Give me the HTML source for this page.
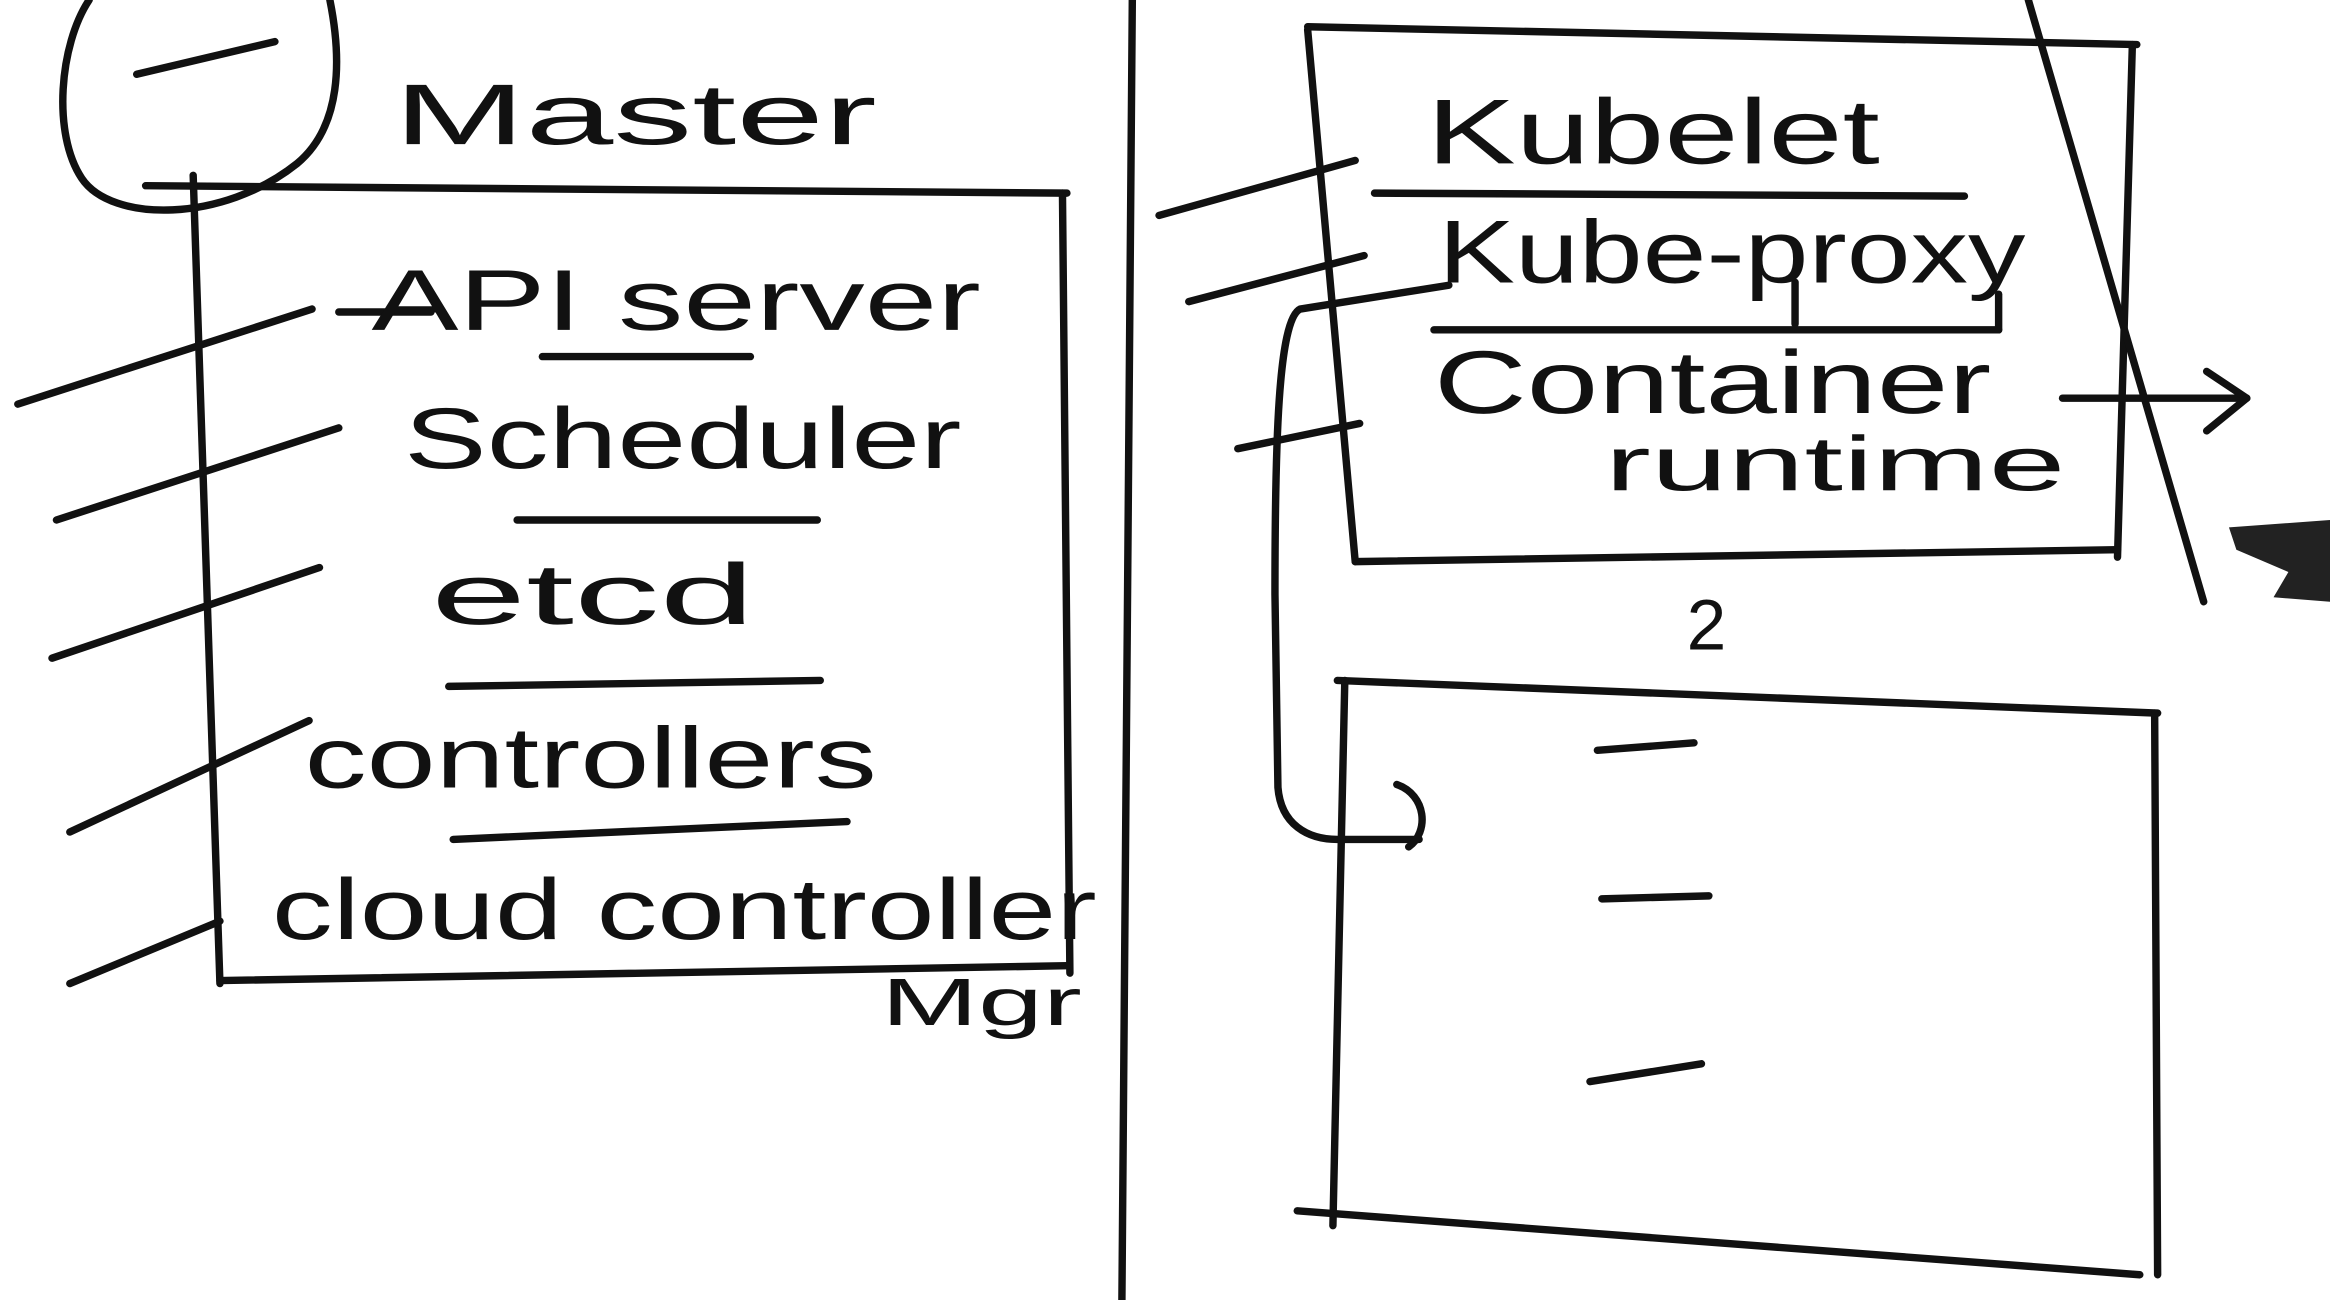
<!DOCTYPE html>
<html><head><meta charset="utf-8"><style>
html,body{margin:0;padding:0;background:#fff;width:2330px;height:1300px;overflow:hidden}
svg{display:block}
text{font-family:"Liberation Sans",sans-serif;fill:#111}
</style></head><body>
<svg width="2330" height="1300" viewBox="0 0 1568 875" preserveAspectRatio="none" xmlns="http://www.w3.org/2000/svg">
<rect width="1568" height="875" fill="#fff"/>
<g fill="none" stroke="#111" stroke-width="5" stroke-linecap="round" stroke-linejoin="round">
<path d="M60,0 C40,30 35,90 55,120 C75,150 150,150 200,110 C230,85 230,40 222,0"/>
<path d="M92,50 L185,28"/>
<path d="M98,125 L718,130"/><path d="M130,118 L148,662"/><path d="M715,130 L720,655"/><path d="M148,660 L718,650"/>
<path d="M12,272 L210,208"/><path d="M38,350 L228,288"/><path d="M35,443 L215,382"/><path d="M47,560 L208,485"/><path d="M47,662 L148,620"/>
<path d="M365,240 L505,240"/><path d="M348,350 L550,350"/><path d="M302,462 L552,458"/><path d="M305,565 L570,553"/>
<path d="M228,210 L290,210"/>
<path d="M762,0 L755,875"/>
<path d="M880,18 L1438,30"/><path d="M880,20 L912,378"/><path d="M1435,30 L1425,375"/><path d="M912,378 L1425,370"/>
<path d="M1365,0 L1483,405"/>
<path d="M780,145 L912,108"/><path d="M800,203 L918,172"/><path d="M833,302 L915,285"/>
<path d="M925,130 L1322,132"/><path d="M965,222 L1345,222"/>
<path d="M1208,190 L1208,218"/><path d="M1345,198 L1345,222"/>
<path d="M1388,268 L1512,268"/><path d="M1485,250 L1512,268 L1485,290"/>
<path d="M975,192 L875,208 C860,215 858,300 858,400 L860,530 C862,555 880,565 900,565 L955,565"/>
<path d="M940,528 C960,535 962,560 948,570"/>
<path d="M900,458 L1452,480"/><path d="M905,458 L897,825"/><path d="M1450,480 L1452,858"/><path d="M873,815 L1440,858"/>
<path d="M1075,505 L1140,500"/><path d="M1078,605 L1150,603"/><path d="M1070,728 L1145,716"/>
</g>
<path d="M1500,355 L1568,350 L1568,405 L1530,402 L1540,385 L1505,370 Z" fill="#222"/>
<g font-size="58">
<text x="265" y="97" textLength="325" lengthAdjust="spacingAndGlyphs">Master</text>
<text x="250" y="222" textLength="410" lengthAdjust="spacingAndGlyphs">API server</text>
<text x="272" y="315" textLength="375" lengthAdjust="spacingAndGlyphs">Scheduler</text>
<text x="290" y="420" textLength="218" lengthAdjust="spacingAndGlyphs">etcd</text>
<text x="205" y="530" textLength="385" lengthAdjust="spacingAndGlyphs">controllers</text>
<text x="183" y="632" textLength="555" lengthAdjust="spacingAndGlyphs">cloud controller</text>
<text x="593" y="690" font-size="45" textLength="135" lengthAdjust="spacingAndGlyphs">Mgr</text>
<text x="960" y="110" font-size="62" textLength="305" lengthAdjust="spacingAndGlyphs">Kubelet</text>
<text x="968" y="190" font-size="60" textLength="395" lengthAdjust="spacingAndGlyphs">Kube-proxy</text>
<text x="965" y="278" font-size="60" textLength="375" lengthAdjust="spacingAndGlyphs">Container</text>
<text x="1080" y="330" font-size="52" textLength="310" lengthAdjust="spacingAndGlyphs">runtime</text>
<text x="1135" y="437" font-size="48">2</text>
</g>
</svg>
</body></html>
